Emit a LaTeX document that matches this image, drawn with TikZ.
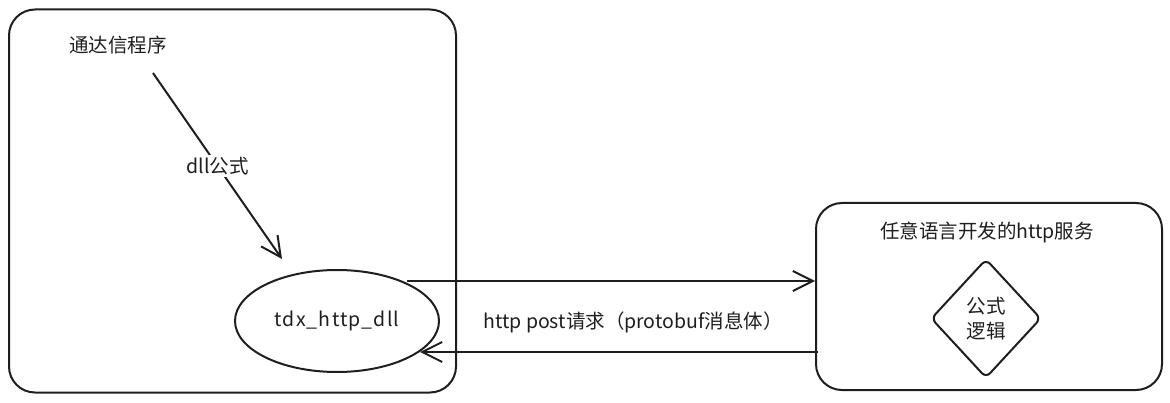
\documentclass[tikz,border=0pt]{standalone}
\usepackage{fontspec}
\setmainfont{Noto Sans CJK SC}
\usetikzlibrary{shapes.geometric,arrows.meta,calc}
\definecolor{ink}{HTML}{1E1E1E}
\begin{document}
\begin{tikzpicture}[x=1pt,y=-1pt,
  every node/.style={text=ink,font=\fontsize{19.5}{25}\selectfont},
  box/.style={draw=ink,line width=2pt,rounded corners=26pt,inner sep=0pt},
  conn/.style={draw=ink,line width=2pt,-{Straight Barb[length=20pt,width=20pt,line width=2pt]}},
  lbl/.style={fill=white,inner sep=2pt}]
\useasboundingbox (0,0) rectangle (1170,403);
\node[box,minimum width=447pt,minimum height=383pt] (lbox) at (232.5,201) {};
\node[box,minimum width=346pt,minimum height=187pt] (rbox) at (989,296.5) {};
\node (ltitle) at (118,45) {通达信程序};
\node (rtitle) at (987,232) {任意语言开发的http服务};
\node[draw=ink,line width=2pt,ellipse,minimum width=204pt,minimum height=102pt,inner sep=0pt] (ell) at (337,321) {\addfontfeature{LetterSpace=6}tdx\_http\_dll};
\node[draw=ink,line width=2pt,diamond,rounded corners=6pt,minimum width=110pt,minimum height=119pt,inner sep=0pt,align=center] (dia) at (986,318.5) {公式\\逻辑};
\coordinate (a1) at (153,73);
\coordinate (a2) at (282,259);
\coordinate (b1) at (407,281);
\coordinate (b2) at (rbox.west |- b1);
\coordinate (c1) at (818,352);
\coordinate (c2) at (420,352);
\draw[conn] (a1) -- node[lbl] (l1) {dll公式} (a2);
\draw[conn] (b1) -- (b2);
\draw[conn] (c1) -- (c2);
\node (l2) at (633,322) {http post请求（protobuf消息体）};
\end{tikzpicture}
\end{document}
